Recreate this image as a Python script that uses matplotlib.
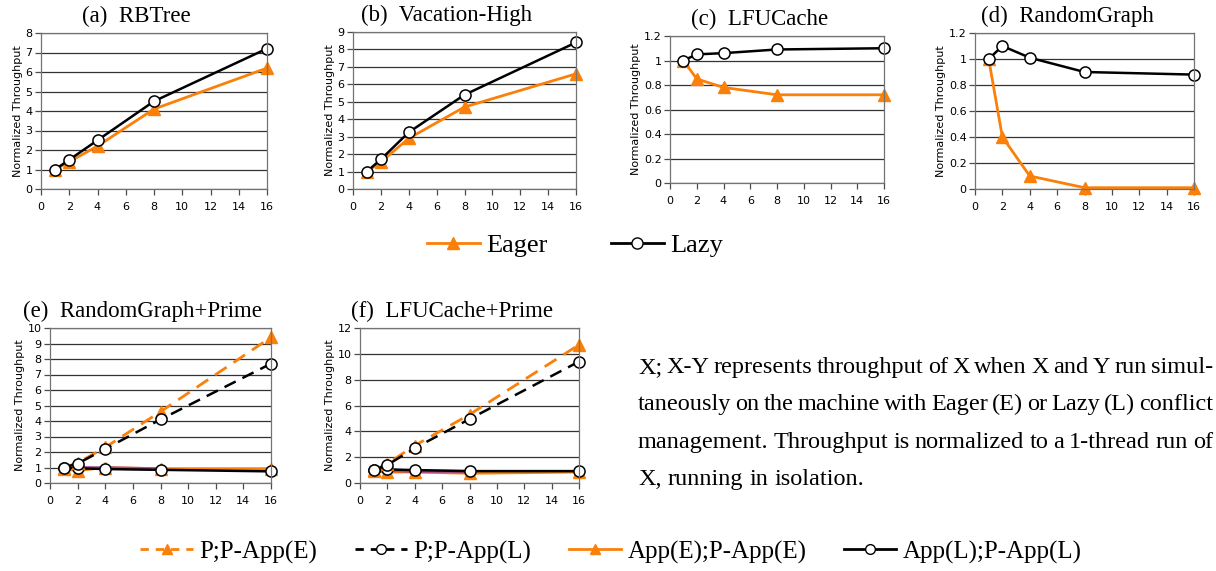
import matplotlib
matplotlib.use('Agg')
import matplotlib.pyplot as plt
import numpy as np
from matplotlib.lines import Line2D

W, H = 1216, 571
threads = [1, 2, 4, 8, 16]

# top row: Eager / Lazy
rbtree_eager = [1.0, 1.4, 2.2, 4.1, 6.2]
rbtree_lazy = [1.0, 1.5, 2.5, 4.5, 7.2]
vac_eager = [1.0, 1.55, 2.9, 4.7, 6.6]
vac_lazy = [1.0, 1.7, 3.25, 5.4, 8.4]
lfu_eager = [1.0, 0.85, 0.78, 0.72, 0.72]
lfu_lazy = [1.0, 1.05, 1.06, 1.09, 1.1]
rg_eager = [1.0, 0.4, 0.1, 0.01, 0.01]
rg_lazy = [1.0, 1.1, 1.01, 0.9, 0.88]

# bottom row: co-run with Prime
rgp_pe = [1.0, 1.3, 2.3, 4.6, 9.4]
rgp_pl = [1.0, 1.25, 2.2, 4.1, 7.7]
rgp_ae = [0.9, 0.8, 1.0, 0.92, 0.92]
rgp_al = [1.0, 0.95, 0.9, 0.85, 0.75]
rgp_extra = [np.nan, 1.0, 0.97, 0.9, np.nan]
lfup_pe = [1.0, 1.5, 2.9, 5.3, 10.7]
lfup_pl = [1.0, 1.4, 2.7, 4.95, 9.4]
lfup_ae = [0.9, 0.85, 0.85, 0.75, 0.85]
lfup_al = [1.0, 1.05, 1.0, 0.92, 0.92]
lfup_extra = [np.nan, 1.0, 0.9, 0.88, np.nan]

ORANGE = '#fb8009'
SERIF = ['Liberation Serif', 'DejaVu Serif']

fig = plt.figure(figsize=(W / 100, H / 100), dpi=100)


def make_ax(l, r, t, b):
    return fig.add_axes([l / W, 1 - b / H, (r - l) / W, (b - t) / H])


def style(ax, title, ymax, ystep):
    ax.set_xlim(0, 16)
    ax.set_ylim(0, ymax)
    ax.set_xticks(range(0, 17, 2))
    yt = np.arange(0, ymax + ystep / 2, ystep)
    ax.set_yticks(yt)
    if ystep < 1:
        ax.set_yticklabels(['%g' % round(v, 1) for v in yt])
    ax.yaxis.grid(True, color='0.2', lw=0.9)
    ax.set_axisbelow(True)
    for s in ax.spines.values():
        s.set_color('0.45')
        s.set_linewidth(0.9)
    ax.tick_params(labelsize=8, length=4, width=0.9, color='0.3', pad=2)
    ax.tick_params(axis='x', pad=5)
    ax.set_ylabel('Normalized Throughput', fontsize=8, labelpad=2)
    ax.set_title(title, family=SERIF, fontsize=16.5, x=0.42, pad=8)


mk_e = dict(color=ORANGE, lw=2, marker='^', ms=8, mec=ORANGE, clip_on=False)
mk_l = dict(color='black', lw=1.8, marker='o', ms=8, mfc='white', mec='black', mew=1.1, clip_on=False)

top = [
    ((41, 267, 33, 189), '(a)  RBTree', 8, 1, rbtree_eager, rbtree_lazy),
    ((353, 576, 32, 189), '(b)  Vacation-High', 9, 1, vac_eager, vac_lazy),
    ((670, 884, 36, 183), '(c)  LFUCache', 1.2, 0.2, lfu_eager, lfu_lazy),
    ((975, 1194, 33, 189), '(d)  RandomGraph', 1.2, 0.2, rg_eager, rg_lazy),
]
for box, title, ymax, ystep, ev, lv in top:
    ax = make_ax(*box)
    style(ax, title, ymax, ystep)
    ax.plot(threads, ev, **mk_e)
    ax.plot(threads, lv, **mk_l)

bottom = [
    ((50, 271, 328, 483), '(e)  RandomGraph+Prime', 10, 1,
     rgp_pe, rgp_pl, rgp_ae, rgp_al, rgp_extra),
    ((360, 579, 328, 483), '(f)  LFUCache+Prime', 12, 2,
     lfup_pe, lfup_pl, lfup_ae, lfup_al, lfup_extra),
]
for box, title, ymax, ystep, pe, pl, ae, al, extra in bottom:
    ax = make_ax(*box)
    style(ax, title, ymax, ystep)
    ax.plot(threads, ae, **mk_e)
    ax.plot(threads, extra, color='#a040a0', lw=2.5, alpha=0.8)
    ax.plot(threads, al, **mk_l)
    ax.plot(threads, pe, ls=(0, (5, 3)), **mk_e)
    ax.plot(threads, pl, ls=(0, (5, 3)), **mk_l)

# legends
h_e = Line2D([], [], color=ORANGE, lw=2, marker='^', ms=8)
h_l = Line2D([], [], color='black', lw=2, marker='o', ms=8, mfc='white', mec='black')
fig.legend([h_e, h_l], ['Eager', 'Lazy'], loc='center', bbox_to_anchor=(575 / W, 1 - 245 / H),
           ncol=2, frameon=False, prop={'family': SERIF, 'size': 19}, handlelength=2.0,
           handletextpad=0.25, columnspacing=2.4)

h_pe = Line2D([], [], color=ORANGE, lw=2, ls=(0, (3, 2.5)), marker='^', ms=7)
h_pl = Line2D([], [], color='black', lw=2, ls=(0, (3, 2.5)), marker='o', ms=7, mfc='white', mec='black')
h_ae = Line2D([], [], color=ORANGE, lw=2, marker='^', ms=7)
h_al = Line2D([], [], color='black', lw=2, marker='o', ms=7, mfc='white', mec='black')
fig.legend([h_pe, h_pl, h_ae, h_al],
           ['P;P-App(E)', 'P;P-App(L)', 'App(E);P-App(E)', 'App(L);P-App(L)'],
           loc='center', bbox_to_anchor=(611 / W, 1 - 552 / H), ncol=4, frameon=False,
           prop={'family': SERIF, 'size': 18}, handlelength=2.1, handletextpad=0.25,
           columnspacing=1.5)

# justified note text
lines = [
    'X; X-Y represents throughput of X when X and Y run simul-',
    'taneously on the machine with Eager (E) or Lazy (L) conflict',
    'management. Throughput is normalized to a 1-thread run of',
    'X, running in isolation.',
]
FS = 17.5
x0, x1 = 638, 1213
base = [373, 410, 448, 485]
renderer = fig.canvas.get_renderer()
probe1 = fig.text(0, 0, 'a a', family=SERIF, fontsize=FS)
probe2 = fig.text(0, 0, 'aa', family=SERIF, fontsize=FS)
sw = probe1.get_window_extent(renderer).width - probe2.get_window_extent(renderer).width
probe1.remove()
probe2.remove()
for i, (ln, yb) in enumerate(zip(lines, base)):
    words = ln.split(' ')
    texts = [fig.text(0, 1 - yb / H, w, family=SERIF, fontsize=FS, va='baseline')
             for w in words]
    widths = [t.get_window_extent(renderer).width for t in texts]
    if i < len(lines) - 1:
        gap = (x1 - x0 - sum(widths)) / (len(words) - 1)
    else:
        gap = sw
    x = x0
    for t, w in zip(texts, widths):
        t.set_x(x / W)
        x += w + gap

fig.savefig('out.png', dpi=100)
